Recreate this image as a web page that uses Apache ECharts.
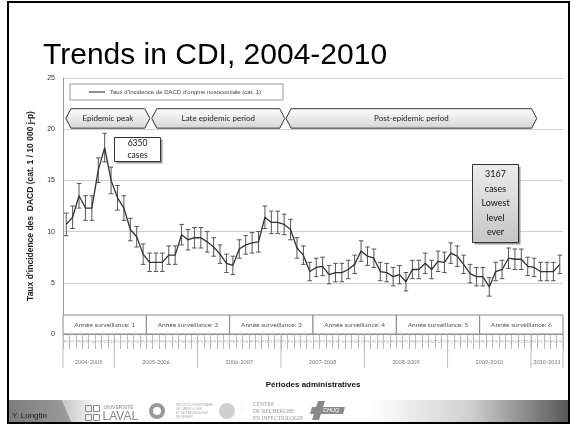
<!DOCTYPE html>
<html><head><meta charset="utf-8">
<script src="https://cdn.jsdelivr.net/npm/echarts@6/dist/echarts.min.js"></script>
<style>html,body{margin:0;padding:0;background:#fff}#c{width:571px;height:426px}</style>
</head><body><div id="c"></div>
<script>
// ---------- DATA ----------
const rates = [10.7, 11.4, 13.5, 12.3, 12.3, 16.0, 18.2, 15.0, 13.3, 12.3,
               10.2, 9.5, 7.8, 7.0, 7.0, 7.0, 7.7, 7.7, 9.7, 9.2,
               9.4, 9.4, 9.0, 8.5, 7.8, 6.9, 6.7, 8.3, 8.7, 8.9,
               9.0, 11.4, 10.9, 10.9, 10.7, 10.2, 8.4, 7.7, 6.1, 6.5,
               6.6, 5.8, 6.0, 6.0, 6.3, 6.8, 8.1, 7.6, 7.4, 6.1,
               6.0, 5.6, 5.8, 5.1, 6.3, 6.3, 6.9, 6.3, 7.1, 7.0,
               7.9, 7.6, 6.8, 5.9, 5.6, 5.6, 4.6, 6.1, 6.3, 7.4,
               7.3, 7.3, 6.6, 6.5, 6.1, 6.1, 6.1, 6.8];
const ciHalf = [1.1, 1.1, 1.2, 1.2, 1.2, 1.2, 1.4, 1.3, 1.2, 1.2,
                1.1, 1.0, 1.0, 0.9, 0.9, 0.9, 0.9, 0.9, 1.0, 1.0,
                1.0, 1.0, 1.0, 0.9, 0.9, 0.9, 0.9, 0.9, 0.9, 1.0,
                1.0, 1.1, 1.1, 1.1, 1.0, 1.0, 1.0, 0.9, 0.9, 0.9,
                0.9, 0.9, 0.9, 0.9, 0.9, 0.9, 1.0, 0.9, 0.9, 0.9,
                0.9, 0.9, 0.9, 0.9, 0.9, 0.9, 1.0, 0.9, 1.0, 1.0,
                1.0, 1.0, 0.9, 0.9, 0.9, 0.9, 0.9, 0.9, 0.9, 1.0,
                1.0, 1.0, 0.9, 0.9, 0.9, 0.9, 0.9, 0.9];
const adminYears = ['2004-2005','2005-2006','2006-2007','2007-2008','2008-2009','2009-2010','2010-2011'];
const adminYearCounts = [8, 13, 13, 13, 13, 13, 5];
const adminFirstPeriod = [6, 1, 1, 1, 1, 1, 1];
const survYears = ['Année surveillance: 1','Année surveillance: 2','Année surveillance: 3',
                   'Année surveillance: 4','Année surveillance: 5','Année surveillance: 6'];
const survCounts = [13, 13, 13, 13, 13, 13];
const phases = ['Epidemic peak', 'Late epidemic period', 'Post-epidemic period'];
const phaseStart = [0.45, 13.85, 34.8];
const phaseEnd = [13.55, 34.6, 73.9];
const legendLabel = "Taux d'incidence de DACD d'origine nosocomiale (cat. 1)";
const yAxisName = "Taux d'incidence des  DACD (cat. 1 / 10 000 j-p)";
const xAxisName = 'Périodes administratives';
const titleText = 'Trends in CDI, 2004-2010';

// ---------- derived ----------
const periods = [];
adminYears.forEach((y, k) => {
  for (let p = 0; p < adminYearCounts[k]; p++) periods.push('P' + (adminFirstPeriod[k] + p) + ' ' + y);
});
function starts(counts){ const s=[]; let a=0; counts.forEach(c=>{s.push(a); a+=c;}); return s; }
const adminStart = starts(adminYearCounts);
const survStart = starts(survCounts);

function edge(api, idx){
  const c0 = api.coord([0, 0])[0];
  const bw = api.coord([1, 0])[0] - c0;
  return c0 - bw / 2 + idx * bw;
}

const chart = echarts.init(document.getElementById('c'), null, {renderer: 'canvas'});
const calibri = 'Lato, "Open Sans", sans-serif';
const arial = '"Liberation Sans", Arial, sans-serif';

const option = {
  backgroundColor: '#fff',
  animation: false,
  title: {
    text: titleText, left: 38, top: 36,
    textStyle: {fontSize: 30, fontWeight: 'normal', color: '#000', fontFamily: arial}
  },
  legend: {
    data: [legendLabel], left: 70, top: 84, icon: 'rect',
    backgroundColor: '#fff', borderColor: '#999', borderWidth: 1, borderRadius: 0,
    padding: [5, 22, 5, 19], itemWidth: 16, itemHeight: 1, itemGap: 4,
    textStyle: {fontSize: 6, color: '#444', fontFamily: arial}
  },
  grid: {left: 63, right: 8, top: 78, bottom: 92, outerBoundsMode: 'none'},
  xAxis: {
    type: 'category', data: periods, boundaryGap: true,
    axisLine: {show: true, lineStyle: {color: '#999', width: 1}},
    axisTick: {show: true, interval: 0, length: 15, lineStyle: {color: '#bbb'}},
    axisLabel: {interval: 0, fontSize: 4, color: '#aaa', margin: 6,
                formatter: v => v.split(' ')[0]},
    name: xAxisName, nameLocation: 'middle', nameGap: 47,
    nameTextStyle: {fontSize: 8, fontWeight: 'bold', color: '#111', fontFamily: arial}
  },
  yAxis: {
    type: 'value', min: 0, max: 25, interval: 5,
    axisLine: {show: true, lineStyle: {color: '#999'}},
    axisTick: {show: false},
    axisLabel: {fontSize: 7, color: '#333', margin: 8, fontFamily: arial},
    splitLine: {lineStyle: {color: '#cfcfcf', width: 1}},
    name: yAxisName, nameLocation: 'middle', nameGap: 28,
    nameTextStyle: {fontSize: 8.5, fontWeight: 'bold', color: '#222', fontFamily: arial}
  },
  series: [
    {
      name: legendLabel, type: 'line', data: rates, symbol: 'none', z: 5,
      lineStyle: {color: '#333', width: 1.3}, itemStyle: {color: '#222'}
    },
    {
      name: 'ci', type: 'custom', silent: true, z: 4,
      data: rates.map((v, i) => [i, v - ciHalf[i], v + ciHalf[i]]),
      encode: {x: 0, y: [1, 2]},
      renderItem(params, api){
        const lo = api.coord([api.value(0), api.value(1)]);
        const hi = api.coord([api.value(0), api.value(2)]);
        const w = 2.3, st = {stroke: '#555', lineWidth: 1};
        return {type: 'group', children: [
          {type: 'line', shape: {x1: lo[0], y1: lo[1], x2: hi[0], y2: hi[1]}, style: st},
          {type: 'line', shape: {x1: lo[0]-w, y1: lo[1], x2: lo[0]+w, y2: lo[1]}, style: st},
          {type: 'line', shape: {x1: hi[0]-w, y1: hi[1], x2: hi[0]+w, y2: hi[1]}, style: st}
        ]};
      }
    },
    {
      name: 'phases', type: 'custom', silent: true, z: 6, clip: false,
      data: phases.map((p, k) => [phaseStart[k], phaseEnd[k]]),
      encode: {x: [0, 1]},
      renderItem(params, api){
        const k = params.dataIndex;
        const x0 = edge(api, phaseStart[k]), x1 = edge(api, phaseEnd[k]);
        const top = api.coord([0, 22.0])[1], bot = api.coord([0, 20.1])[1];
        const mid = (top + bot) / 2, n = 5;
        return {type: 'group', children: [
          {type: 'polygon', shape: {points: [[x0+n, top], [x1-n, top], [x1, mid], [x1-n, bot], [x0+n, bot], [x0, mid]]},
           style: {fill: new echarts.graphic.LinearGradient(0, 0, 0, 1, [{offset: 0, color: '#ffffff'}, {offset: 1, color: '#d4d4d4'}]),
                   stroke: '#333', lineWidth: 1}},
          {type: 'text', x: (x0 + x1) / 2, y: mid,
           style: {text: phases[k], fontSize: 8, fontFamily: calibri, fill: '#222', align: 'center', verticalAlign: 'middle'}}
        ]};
      }
    },
    {
      name: 'surv', type: 'custom', silent: true, z: 6, clip: false,
      data: survYears.map((s, k) => [survStart[k], survStart[k] + survCounts[k]]),
      encode: {x: [0, 1]},
      renderItem(params, api){
        const k = params.dataIndex;
        const x0 = edge(api, survStart[k]), x1 = edge(api, survStart[k] + survCounts[k]);
        const y0 = api.coord([0, 0])[1];
        return {type: 'group', children: [
          {type: 'rect', shape: {x: x0, y: y0 - 19, width: x1 - x0, height: 19},
           style: {fill: '#fff', stroke: '#888', lineWidth: 1}},
          {type: 'text', x: (x0 + x1) / 2, y: y0 - 9.5,
           style: {text: survYears[k], fontSize: 6.5, fontFamily: calibri, fill: '#555', align: 'center', verticalAlign: 'middle'}}
        ]};
      }
    },
    {
      name: 'years', type: 'custom', silent: true, z: 6, clip: false,
      data: adminYears.map((s, k) => [adminStart[k], adminStart[k] + adminYearCounts[k]]),
      encode: {x: [0, 1]},
      renderItem(params, api){
        const k = params.dataIndex;
        const x0 = edge(api, adminStart[k]), x1 = edge(api, adminStart[k] + adminYearCounts[k]);
        const y0 = api.coord([0, 0])[1];
        const st = {stroke: '#bbb', lineWidth: 1};
        const ch = [
          {type: 'line', shape: {x1: x1, y1: y0, x2: x1, y2: y0 + 34}, style: st},
          {type: 'text', x: (x0 + x1) / 2, y: y0 + 28,
           style: {text: adminYears[k], fontSize: 5.5, fontFamily: calibri, fill: '#777', align: 'center', verticalAlign: 'middle'}}
        ];
        if (k === 0) ch.push({type: 'line', shape: {x1: x0, y1: y0, x2: x0, y2: y0 + 34}, style: st});
        return {type: 'group', children: ch};
      }
    }
  ],
  graphic: [
    // annotation boxes
    {type: 'group', left: 114, top: 137, z: 50, children: [
      {type: 'rect', z: 50, shape: {x: 2, y: 2, width: 46, height: 24}, style: {fill: '#999'}},
      {type: 'rect', z: 51, shape: {x: 0, y: 0, width: 46, height: 24}, style: {fill: '#fff', stroke: '#333', lineWidth: 1}},
      {type: 'text', z: 52, x: 23, y: 12, style: {text: '6350\ncases', fontSize: 8.5, lineHeight: 12, fontFamily: calibri, fill: '#111', align: 'center', verticalAlign: 'middle'}}
    ]},
    {type: 'group', left: 472, top: 164, z: 50, children: [
      {type: 'rect', z: 50, shape: {x: 2, y: 2, width: 46, height: 78}, style: {fill: '#999'}},
      {type: 'rect', z: 51, shape: {x: 0, y: 0, width: 46, height: 78},
       style: {fill: new echarts.graphic.LinearGradient(0, 0, 0, 1, [{offset: 0, color: '#ececec'}, {offset: 1, color: '#c6c6c6'}]), stroke: '#333', lineWidth: 1}},
      {type: 'text', z: 52, x: 23, y: 39, style: {text: '3167\ncases\nLowest\nlevel\never', fontSize: 9, lineHeight: 14.5, fontFamily: calibri, fill: '#111', align: 'center', verticalAlign: 'middle'}}
    ]},
    // footer band
    {type: 'polygon', shape: {points: [[8, 400], [62, 400], [72, 423], [8, 423]]},
     style: {fill: new echarts.graphic.LinearGradient(0, 0, 1, 0, [{offset: 0, color: '#7c7c7c'}, {offset: 1, color: '#9c9c9c'}])}},
    {type: 'polygon', shape: {points: [[62, 400], [92, 400], [100, 423], [72, 423]]},
     style: {fill: new echarts.graphic.LinearGradient(0, 0, 1, 0, [{offset: 0, color: '#c4c4c4'}, {offset: 1, color: '#ffffff'}])}},
    {type: 'rect', shape: {x: 370, y: 400, width: 200, height: 23},
     style: {fill: new echarts.graphic.LinearGradient(0, 0, 1, 0, [{offset: 0, color: '#ffffff'}, {offset: 0.5, color: '#d0d0d0'}, {offset: 1, color: '#555555'}])}},
    {type: 'text', left: 12, top: 412, style: {text: 'Y. Longtin', fontSize: 8, fontFamily: arial, fill: '#1a1a1a'}},
    // Laval logo
    {type: 'group', left: 83, top: 403, children: [
      {type: 'rect', shape: {x: 0, y: 0, width: 6, height: 6}, style: {fill: 'none', stroke: '#888', lineWidth: 1}},
      {type: 'rect', shape: {x: 8, y: 0, width: 6, height: 6}, style: {fill: 'none', stroke: '#888', lineWidth: 1}},
      {type: 'rect', shape: {x: 0, y: 9, width: 6, height: 6}, style: {fill: 'none', stroke: '#888', lineWidth: 1}},
      {type: 'rect', shape: {x: 8, y: 9, width: 6, height: 6}, style: {fill: 'none', stroke: '#888', lineWidth: 1}},
      {type: 'text', x: 18, y: 0, style: {text: 'UNIVERSITÉ', fontSize: 5, fontFamily: arial, fill: '#888'}},
      {type: 'text', x: 17, y: 5, style: {text: 'LAVAL', fontSize: 12, fontFamily: arial, fill: '#888'}}
    ]},
    // Institut logo
    {type: 'circle', shape: {cx: 157, cy: 411, r: 6}, style: {fill: 'none', stroke: '#999', lineWidth: 4}},
    {type: 'text', left: 176, top: 403, style: {text: 'INSTITUT UNIVERSITAIRE\nDE CARDIOLOGIE\nET DE PNEUMOLOGIE\nDE QUÉBEC', fontSize: 3, lineHeight: 4, fontFamily: arial, fill: '#aaa'}},
    // Centre de recherche logo
    {type: 'circle', shape: {cx: 227, cy: 411, r: 8}, style: {fill: '#cfcfcf'}},
    {type: 'text', left: 237, top: 406, style: {text: '· : ·', fontSize: 5, fontFamily: arial, fill: '#aaa'}},
    {type: 'text', left: 253, top: 401, style: {text: 'CENTRE\nDE RECHERCHE\nEN INFECTIOLOGIE', fontSize: 5.5, lineHeight: 7, fontFamily: '"Liberation Serif", "DejaVu Serif", serif', fill: '#999'}},
    // CHUQ logo
    {type: 'polygon', shape: {points: [[312, 407], [345, 407], [343, 414], [310, 414]]}, style: {fill: '#8a8a8a'}},
    {type: 'polygon', shape: {points: [[318, 401], [325, 401], [319, 420], [312, 420]]}, style: {fill: '#8a8a8a'}},
    {type: 'text', left: 323, top: 407, style: {text: 'CHUQ', fontSize: 5.5, fontStyle: 'italic', fontFamily: arial, fill: '#fff'}},
    // slide frame
    {type: 'rect', shape: {x: 8, y: 2, width: 561, height: 421}, style: {fill: 'none', stroke: '#000', lineWidth: 2}, z: 100}
  ]
};
chart.setOption(option);
</script>
</body></html>
